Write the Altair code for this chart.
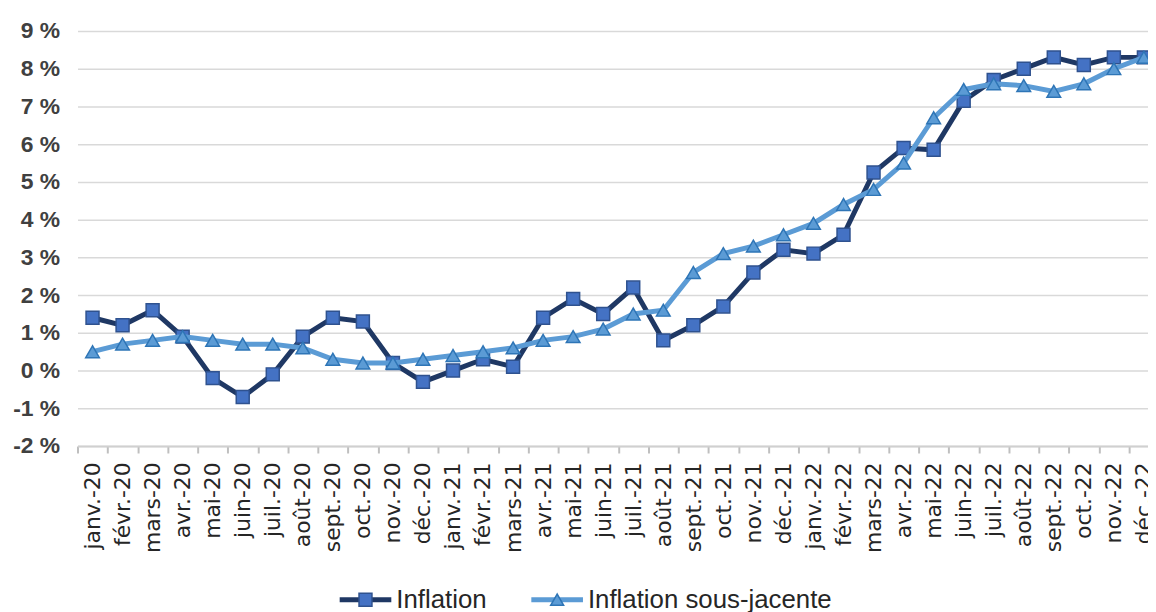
import altair as alt
import pandas as pd

# ---- data ----
month_names = ["janv.", "févr.", "mars", "avr.", "mai", "juin",
               "juil.", "août", "sept.", "oct.", "nov.", "déc."]
years = ["20", "21", "22"]
months = [f"{m}-{y}" for y in years for m in month_names]

inflation = [1.4, 1.2, 1.6, 0.9, -0.2, -0.7, -0.1, 0.9, 1.4, 1.3, 0.2, -0.3,
             0.0, 0.3, 0.1, 1.4, 1.9, 1.5, 2.2, 0.8, 1.2, 1.7, 2.6, 3.2,
             3.1, 3.6, 5.25, 5.9, 5.85, 7.15, 7.7, 8.0, 8.3, 8.1, 8.3, 8.3]
core = [0.5, 0.7, 0.8, 0.9, 0.8, 0.7, 0.7, 0.6, 0.3, 0.2, 0.2, 0.3,
        0.4, 0.5, 0.6, 0.8, 0.9, 1.1, 1.5, 1.6, 2.6, 3.1, 3.3, 3.6,
        3.9, 4.4, 4.8, 5.5, 6.7, 7.45, 7.6, 7.55, 7.4, 7.6, 8.0, 8.3]
series_names = ["Inflation", "Inflation sous-jacente"]
y_ticks = list(range(-2, 10))

df = pd.DataFrame({"month": months, "inflation": inflation, "core": core})

# ---- styles ----
NAVY = "#1F3864"
SQ_FILL = "#4472C4"
SQ_STROKE = "#2F528F"
LIGHT = "#5B9BD5"
TRI_STROKE = "#2E75B6"
LABEL_FONT = "Liberation Sans"

x_enc = alt.X(
    "month:N", sort=months, title=None,
    scale=alt.Scale(type="band", range=[0, 1089], paddingInner=0, paddingOuter=0),
    axis=alt.Axis(
        labelAngle=270, labelFont="DejaVu Sans", labelFontSize=22,
        labelColor="#262626", labelPadding=9, labelOverlap=False,
        tickBand="extent", ticks=True, tickColor="#bfbfbf", tickWidth=2, tickSize=7,
        domainColor="#d0d0d0", domainWidth=2, grid=False,
    ),
)

def y_enc(field):
    return alt.Y(
        f"{field}:Q", title=None,
        scale=alt.Scale(domain=[-2, 9], nice=False, zero=False),
        axis=alt.Axis(
            values=y_ticks, labelExpr="datum.value + ' %'",
            labelFont=LABEL_FONT, labelFontSize=23, labelFontWeight="bold",
            labelColor="#404040", labelPadding=18, ticks=False, tickSize=0,
            domain=False, grid=True, gridColor="#d9d9d9", gridWidth=1.5,
        ),
    )

base = alt.Chart(df)
line_inf = base.mark_line(color=NAVY, strokeWidth=5).encode(x=x_enc, y=y_enc("inflation"))
pts_inf = base.mark_point(shape="square", filled=True, size=170, fill=SQ_FILL,
                          stroke=SQ_STROKE, strokeWidth=1.5, opacity=1).encode(
    x=x_enc, y=y_enc("inflation"))
line_core = base.mark_line(color=LIGHT, strokeWidth=5).encode(x=x_enc, y=y_enc("core"))
pts_core = base.mark_point(shape="triangle-up", filled=True, size=190, fill=LIGHT,
                           stroke=TRI_STROKE, strokeWidth=1.5, opacity=1).encode(
    x=x_enc, y=y_enc("core"))

# ---- legend (drawn manually to show line + marker) ----
LEG_Y = 572.7
def legend_entry(name, x0, color, shape, fill, stroke):
    d = alt.Chart(pd.DataFrame({"label": [name]}))
    rule = d.mark_rule(color=color, strokeWidth=5).encode(
        x=alt.value(x0), x2=alt.value(x0 + 52), y=alt.value(LEG_Y))
    mk = d.mark_point(shape=shape, filled=True, size=170, fill=fill, stroke=stroke,
                      strokeWidth=1.5, opacity=1).encode(
        x=alt.value(x0 + 26), y=alt.value(LEG_Y))
    txt = d.mark_text(align="left", baseline="alphabetic", font=LABEL_FONT,
                      fontSize=26, color="#262626").encode(
        x=alt.value(x0 + 57), y=alt.value(581.5), text="label:N")
    return [rule, mk, txt]

legend_layers = (legend_entry(series_names[0], 264, NAVY, "square", SQ_FILL, SQ_STROKE)
                 + legend_entry(series_names[1], 457, LIGHT, "triangle-up", LIGHT, TRI_STROKE))

chart = alt.layer(line_inf, pts_inf, line_core, pts_core, *legend_layers).properties(
    width=1078, height=418,
    padding={"left": 70, "top": 21, "right": 0, "bottom": 165},
    autosize=alt.AutoSizeParams(type="none"),
).configure_view(stroke=None)

chart.save("out.html", embed_options={"renderer": "svg", "actions": False})
